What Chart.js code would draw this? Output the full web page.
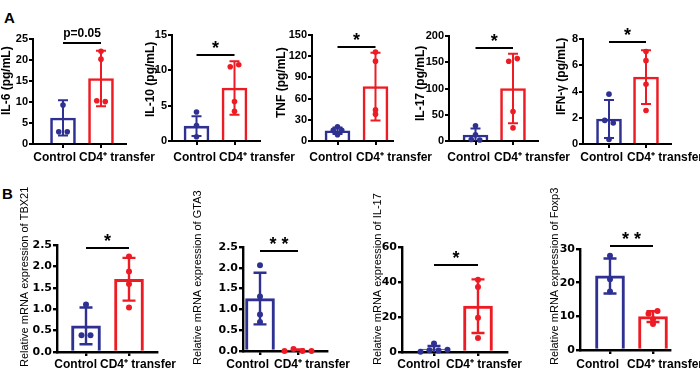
<!DOCTYPE html>
<html><head><meta charset="utf-8">
<script src="https://cdn.jsdelivr.net/npm/chart.js@4.4.0/dist/chart.umd.min.js"></script>
<style>
html,body{margin:0;padding:0;background:#fff;width:700px;height:379px;overflow:hidden;position:relative;}
canvas{position:absolute;}
.letter{position:absolute;font:bold 15px "Liberation Sans",Arial,sans-serif;line-height:15px;color:#000;}
</style></head><body>
<div class="letter" style="left:4px;top:10px">A</div>
<div class="letter" style="left:2px;top:186px">B</div>
<script>
const groups = ['Control', 'CD4⁺ transfer'];

// ---- Panel A: serum cytokines ----
const il6Ticks = ['0','5','10','15','20','25'];
const il6Mean = [6.2, 15.6];
const il6SD = [4.2, 6.6];
const il6Control = [9.3, 2.9, 2.9];
const il6Transfer = [22.1, 20.2, 10.3, 10.1];
const il6Sig = 24.0;

const il10Ticks = ['0','5','10','15'];
const il10Mean = [2.1, 7.5];
const il10SD = [1.4, 3.8];
const il10Control = [4.1, 2.2, 0.6];
const il10Transfer = [10.5, 10.8, 5.6, 4.2];
const il10Sig = 12.2;

const tnfTicks = ['0','30','60','90','120','150'];
const tnfMean = [14.5, 77];
const tnfSD = [4.5, 48];
const tnfControl = [20, 15, 15, 9];
const tnfTransfer = [126, 113, 44, 38];
const tnfSig = 133;

const il17Ticks = ['0','50','100','150','200'];
const il17Mean = [11.5, 100];
const il17SD = [12.5, 66];
const il17Control = [29, 12, 3, 2];
const il17Transfer = [152, 157, 56, 25];
const il17Sig = 176.5;

const ifnTicks = ['0','2','4','6','8'];
const ifnMean = [1.9, 5.1];
const ifnSD = [1.45, 2.05];
const ifnControl = [3.8, 1.8, 1.6, 0.35];
const ifnTransfer = [7.05, 6.35, 4.55, 2.55];
const ifnSig = 7.74;

// ---- Panel B: relative mRNA expression ----
const tbx21Ticks = ['0.0','0.5','1.0','1.5','2.0','2.5'];
const tbx21Mean = [0.61, 1.70];
const tbx21SD = [0.43, 0.5];
const tbx21Control = [1.11, 0.39, 0.39];
const tbx21Transfer = [2.23, 1.88, 1.59, 1.04];
const tbx21Sig = 2.42;

const gta3Ticks = ['0.0','0.5','1.0','1.5','2.0','2.5'];
const gta3Mean = [1.26, 0.02];
const gta3SD = [0.62, 0.02];
const gta3Control = [2.06, 1.31, 0.88, 0.70];
const gta3Transfer = [0.0, 0.05, 0.0, 0.0];
const gta3Sig = 2.40;

const il17mTicks = ['0','20','40','60'];
const il17mMean = [1.6, 26.2];
const il17mSD = [1.8, 15.3];
const il17mControl = [0.1, 4.8, 1.0, 0.9, 1.3];
const il17mTransfer = [41.3, 37.1, 19.6, 8.0];
const il17mSig = 49.5;

const foxp3Ticks = ['0','10','20','30'];
const foxp3Mean = [22.0, 9.9];
const foxp3SD = [5.2, 1.6];
const foxp3Control = [28.0, 21.0, 17.4];
const foxp3Transfer = [10.8, 11.6, 9.1, 7.7];
const foxp3Sig = 30.8;

const BLUE = '#2e3192', RED = '#ed1c24';
Chart.defaults.font.family = '"Liberation Sans", Arial, sans-serif';

const panels = [
  {row:'A', title:'IL-6 (pg/mL)', ticks:il6Ticks, mean:il6Mean, sd:il6SD, ctrl:il6Control, cd4:il6Transfer, sig:il6Sig, sigText:'p=0.05',
   area:{l:33,r:126,t:39,b:144}, c:[63,101], titleX:7, titleEnd:115, labR:76, labL:79},
  {row:'A', title:'IL-10 (pg/mL)', ticks:il10Ticks, mean:il10Mean, sd:il10SD, ctrl:il10Control, cd4:il10Transfer, sig:il10Sig, sigText:'*',
   area:{l:172,r:260,t:35,b:141}, c:[196.5,234.5], titleX:151, titleEnd:117, labR:216, labL:219},
  {row:'A', title:'TNF (pg/mL)', ticks:tnfTicks, mean:tnfMean, sd:tnfSD, ctrl:tnfControl, cd4:tnfTransfer, sig:tnfSig, sigText:'*',
   area:{l:312,r:393,t:35,b:141}, c:[337.5,375.5], titleX:282, titleEnd:118, labR:352, labL:356},
  {row:'A', title:'IL-17 (pg/mL)', ticks:il17Ticks, mean:il17Mean, sd:il17SD, ctrl:il17Control, cd4:il17Transfer, sig:il17Sig, sigText:'*',
   area:{l:449,r:538,t:36,b:141}, c:[475.5,513], titleX:421, titleEnd:121, labR:490, labL:494},
  {row:'A', title:'IFN-γ (pg/mL)', ticks:ifnTicks, mean:ifnMean, sd:ifnSD, ctrl:ifnControl, cd4:ifnTransfer, sig:ifnSig, sigText:'*',
   area:{l:583,r:671,t:39,b:144}, c:[609,646], titleX:562, titleEnd:115, labR:623, labL:627},
  {row:'B', title:'Relative mRNA expression of TBX21', ticks:tbx21Ticks, mean:tbx21Mean, sd:tbx21SD, ctrl:tbx21Control, cd4:tbx21Transfer, sig:tbx21Sig, sigText:'*',
   area:{l:57,r:157,t:245,b:352}, c:[86,129], titleX:25, titleEnd:367, labR:97, labL:100},
  {row:'B', title:'Relative mRNA expression of GTA3', ticks:gta3Ticks, mean:gta3Mean, sd:gta3SD, ctrl:gta3Control, cd4:gta3Transfer, sig:gta3Sig, sigText:'**',
   area:{l:243,r:327,t:247,b:351}, c:[260,298], titleX:198, titleEnd:365, labR:269, labL:274},
  {row:'B', title:'Relative mRNA expression of IL-17', ticks:il17mTicks, mean:il17mMean, sd:il17mSD, ctrl:il17mControl, cd4:il17mTransfer, sig:il17mSig, sigText:'*',
   area:{l:402,r:507,t:247,b:352}, c:[434,478], titleX:378, titleEnd:365, labR:440, labL:446},
  {row:'B', title:'Relative mRNA expression of Foxp3', ticks:foxp3Ticks, mean:foxp3Mean, sd:foxp3SD, ctrl:foxp3Control, cd4:foxp3Transfer, sig:foxp3Sig, sigText:'**',
   area:{l:580,r:670,t:249,b:350}, c:[610,653], titleX:555, titleEnd:365, labR:619, labL:627}
];

function swarm(els, spacing, thr) {
  if (!els.length) return;
  const idx = els.map((e, i) => i).sort((a, b) => els[a].y - els[b].y);
  const clusters = [];
  let cur = [idx[0]];
  for (let k = 1; k < idx.length; k++) {
    if (Math.abs(els[idx[k]].y - els[idx[k - 1]].y) < thr) cur.push(idx[k]);
    else { clusters.push(cur); cur = [idx[k]]; }
  }
  clusters.push(cur);
  clusters.forEach(c => {
    c.sort((a, b) => a - b);
    const n = c.length;
    c.forEach((i, k) => { els[i].x += (k - (n - 1) / 2) * spacing; });
  });
}

const decor = {
  id: 'decor',
  afterDatasetsUpdate(chart) {
    const o = chart.options.plugins.decor;
    [0, 1].forEach(d => swarm(chart.getDatasetMeta(d).data, o.spacing, o.thr));
  },
  afterDatasetDraw(chart, args) {
    if (args.index !== 2) return;
    const o = chart.options.plugins.decor;
    const ctx = chart.ctx, y = chart.scales.y;
    const bars = chart.getDatasetMeta(2).data;
    ctx.save();
    ctx.lineWidth = o.errW;
    ctx.lineCap = 'butt';
    o.mean.forEach((m, i) => {
      const x = bars[i].x;
      const lo = m - o.sd[i];
      const top = y.getPixelForValue(m + o.sd[i]);
      const bot = y.getPixelForValue(Math.max(lo, y.min));
      ctx.strokeStyle = o.colors[i];
      ctx.beginPath();
      ctx.moveTo(x, top); ctx.lineTo(x, bot);
      ctx.moveTo(x - o.capW / 2, top); ctx.lineTo(x + o.capW / 2, top);
      if (lo > y.min) { ctx.moveTo(x - o.capW / 2, bot); ctx.lineTo(x + o.capW / 2, bot); }
      ctx.stroke();
    });
    ctx.restore();
  },
  afterDraw(chart) {
    const o = chart.options.plugins.decor;
    const ctx = chart.ctx, x = chart.scales.x, y = chart.scales.y;
    const ox = o.box.left, oy = o.box.top;
    ctx.save();
    ctx.fillStyle = '#000';
    ctx.translate(o.titleX - ox, o.titleEnd - oy);
    ctx.rotate(-Math.PI / 2);
    ctx.font = o.titleFont;
    ctx.textAlign = 'left';
    ctx.textBaseline = 'middle';
    ctx.fillText(o.title, 0, 0);
    ctx.restore();

    ctx.save();
    ctx.fillStyle = '#000';
    ctx.font = 'bold 12px "Liberation Sans", Arial, sans-serif';
    ctx.textBaseline = 'alphabetic';
    ctx.textAlign = 'right';
    ctx.fillText(groups[0], o.labR - ox, o.labBase - oy);
    ctx.textAlign = 'left';
    ctx.fillText(groups[1], o.labL - ox, o.labBase - oy);

    const x0 = x.getPixelForValue(0), x1 = x.getPixelForValue(1);
    const ys = Math.round(y.getPixelForValue(o.sig));
    ctx.strokeStyle = '#000';
    ctx.lineWidth = 2;
    ctx.beginPath(); ctx.moveTo(x0, ys); ctx.lineTo(x1, ys); ctx.stroke();
    ctx.textAlign = 'center';
    if (o.sigText.startsWith('p')) {
      ctx.font = 'bold 12px "Liberation Sans", Arial, sans-serif';
      ctx.fillText(o.sigText, (x0 + x1) / 2, ys - 6.5);
    } else {
      ctx.font = 'bold 18px "Liberation Sans", Arial, sans-serif';
      let sp = 0;
      if (o.sigText.length > 1) { sp = 5; ctx.letterSpacing = sp + 'px'; }
      ctx.fillText(o.sigText, (x0 + x1) / 2 + sp / 2, ys - 1);
    }
    ctx.restore();
  }
};

panels.forEach(p => {
  const A = p.row === 'A';
  const box = {left: p.area.l - 60, top: A ? 0 : 178};
  box.width = (p.area.r - p.area.l) + 120;
  box.height = A ? 178 : 201;
  const yW = 30, xH = 8;
  const cv = document.createElement('canvas');
  cv.width = box.width; cv.height = box.height;
  cv.style.left = box.left + 'px'; cv.style.top = box.top + 'px';
  cv.style.width = box.width + 'px'; cv.style.height = box.height + 'px';
  document.body.appendChild(cv);

  const tickVals = p.ticks.map(Number);
  const span = p.c[1] - p.c[0];
  const xmin = (p.area.l - p.c[0]) / span, xmax = (p.area.r - p.c[0]) / span;
  const axisW = A ? 2 : 2.4;
  const tickFont = A ? {family: '"Liberation Sans", Arial, sans-serif', weight: 'bold', size: 11}
                     : {family: '"DejaVu Sans", sans-serif', weight: 'bold', size: 11};

  new Chart(cv, {
    type: 'bar',
    data: {
      datasets: [
        {type: 'scatter', data: p.ctrl.map(v => ({x: 0, y: v})), pointRadius: A ? 2.8 : 3,
         pointBackgroundColor: BLUE, pointBorderWidth: 0, clip: false, showLine: false},
        {type: 'scatter', data: p.cd4.map(v => ({x: 1, y: v})), pointRadius: A ? 2.8 : 3,
         pointBackgroundColor: RED, pointBorderWidth: 0, clip: false, showLine: false},
        {type: 'bar', data: p.mean.map((v, i) => ({x: i, y: v})), backgroundColor: '#fff',
         borderColor: [BLUE, RED], borderWidth: A ? 2.6 : 3, barThickness: A ? 25 : 29, borderSkipped: 'start'}
      ]
    },
    options: {
      responsive: false, animation: false, events: [],
      devicePixelRatio: 1,
      layout: {autoPadding: false, padding: {
        left: p.area.l - box.left - yW, top: p.area.t - box.top,
        right: box.left + box.width - p.area.r, bottom: box.top + box.height - p.area.b - xH}},
      plugins: {
        legend: {display: false}, tooltip: {enabled: false},
        decor: {
          box, title: p.title, titleX: p.titleX, titleEnd: p.titleEnd,
          titleFont: A ? 'bold 12px "Liberation Sans", Arial, sans-serif' : '11px "Liberation Sans", Arial, sans-serif',
          labR: p.labR, labL: p.labL, labBase: A ? 161 : 368,
          sig: p.sig, sigText: p.sigText, mean: p.mean, sd: p.sd, colors: [BLUE, RED],
          errW: A ? 2 : 2.4, capW: A ? 10 : 13, spacing: A ? 8.5 : 9, thr: 3.2
        }
      },
      scales: {
        x: {
          type: 'linear', min: xmin, max: xmax, offset: false,
          afterBuildTicks: s => { s.ticks = [{value: 0}, {value: 1}]; },
          ticks: {display: false},
          grid: {display: true, offset: false, drawOnChartArea: false, drawTicks: true, tickLength: 4,
                 lineWidth: axisW, tickWidth: axisW, color: '#000', tickColor: '#000'},
          border: {display: true, color: '#000', width: axisW},
          afterFit: s => { s.height = xH; s.paddingLeft = 0; s.paddingRight = 0; }
        },
        y: {
          type: 'linear', min: 0, max: tickVals[tickVals.length - 1],
          afterBuildTicks: s => { s.ticks = tickVals.map(v => ({value: v})); },
          ticks: {callback: (v, i) => p.ticks[i], font: tickFont, color: '#000', padding: 1, autoSkip: false},
          grid: {display: true, drawOnChartArea: false, drawTicks: true, tickLength: 4,
                 lineWidth: axisW, tickWidth: axisW, color: '#000', tickColor: '#000'},
          border: {display: true, color: '#000', width: axisW},
          afterFit: s => { s.width = yW; s.paddingTop = 0; s.paddingBottom = 0; }
        }
      }
    },
    plugins: [decor]
  });
});
</script>
</body></html>
